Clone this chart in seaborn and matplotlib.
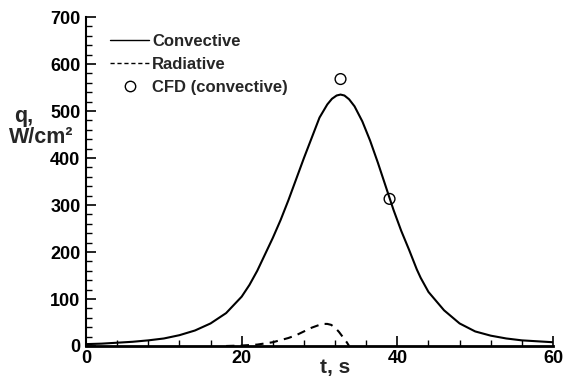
import matplotlib
matplotlib.use("Agg")
import matplotlib.pyplot as plt
from matplotlib.lines import Line2D
from matplotlib.ticker import MultipleLocator
import pandas as pd
import seaborn as sns

# Convective heating along the trajectory
conv_t = [0, 2, 4, 6, 8, 10, 12, 14, 16, 18, 20, 21, 22, 23, 24, 25, 26, 27, 28,
          29, 30, 31, 31.6, 32.2, 32.7, 33.2, 33.8, 34.5, 35.5, 36.5, 37.5, 38.5,
          39.5, 40.5, 41.5, 42.5, 43, 44, 46, 48, 50, 52, 54, 56, 58, 60]
conv_q = [4, 5, 7, 9, 12, 16, 23, 33, 48, 70, 105, 130, 160, 195, 230, 268, 310,
          355, 400, 443, 486, 514, 526, 533, 535, 533, 525, 510, 478, 437, 390,
          340, 290, 245, 205, 163, 145, 115, 76, 48, 31, 22, 16, 12, 10, 8]

# Radiative heating
rad_t = [18, 20, 22, 24, 26, 27, 28, 29, 30, 30.5, 31, 31.5, 32, 32.5, 33, 33.5, 33.8]
rad_q = [0, 1, 3, 8, 17, 23, 31, 39, 45, 47, 47, 45, 39, 30, 19, 8, 0]

# CFD convective points
cfd_t = [32.7, 39.0]
cfd_q = [568, 313]

sns.set_theme(style="ticks")
plt.rcParams["font.family"] = ["Liberation Sans", "DejaVu Sans"]
plt.rcParams["font.weight"] = "bold"

fig = plt.figure(figsize=(5.64, 3.85), dpi=100)
ax = fig.add_axes([0.1525, 0.1013, 0.828, 0.8545])

conv = pd.DataFrame({"t": conv_t, "q": conv_q})
rad = pd.DataFrame({"t": rad_t, "q": rad_q})
cfd = pd.DataFrame({"t": cfd_t, "q": cfd_q})

sns.lineplot(data=conv, x="t", y="q", ax=ax, color="black", linewidth=1.5,
             sort=False, estimator=None)
sns.lineplot(data=rad, x="t", y="q", ax=ax, color="black", linewidth=1.5,
             linestyle=(0, (4, 3)), sort=False, estimator=None)
sns.scatterplot(data=cfd, x="t", y="q", ax=ax, marker="o", s=60,
                facecolor="none", edgecolor="black", linewidth=1.0, zorder=5)

ax.set_xlim(0, 60)
ax.set_ylim(0, 700)
ax.xaxis.set_major_locator(MultipleLocator(20))
ax.xaxis.set_minor_locator(MultipleLocator(4))
ax.yaxis.set_major_locator(MultipleLocator(100))
ax.yaxis.set_minor_locator(MultipleLocator(20))
ax.tick_params(which="major", direction="in", length=7, width=1.2,
               labelsize=13, color="black", labelcolor="black")
ax.tick_params(which="minor", direction="in", length=4, width=1.0, color="black")
ax.tick_params(axis="x", pad=3)
ax.tick_params(axis="y", pad=4)
for lab in ax.get_xticklabels() + ax.get_yticklabels():
    lab.set_fontweight("bold")

sns.despine(ax=ax)
ax.spines["left"].set_linewidth(1.5)
ax.spines["bottom"].set_linewidth(2.0)
ax.spines["left"].set_color("black")
ax.spines["bottom"].set_color("black")

ax.set_xlabel("")
ax.set_ylabel("")
fig.text(0.595, 0.046, "t, s", fontsize=15, fontweight="bold", ha="center", va="center")
fig.text(0.025, 0.698, "q,", fontsize=15.5, fontweight="bold", ha="left", va="center")
fig.text(0.016, 0.643, "W/cm²", fontsize=15.5, fontweight="bold", ha="left", va="center")

handles = [
    Line2D([], [], color="black", linewidth=1.0),
    Line2D([], [], color="black", linewidth=1.0, linestyle=(0, (3, 2))),
    Line2D([], [], color="black", marker="o", markerfacecolor="none",
           linestyle="none", markersize=7.5, markeredgewidth=1.0),
]
leg = ax.legend(handles, ["Convective", "Radiative", "CFD (convective)"],
                loc="upper left", bbox_to_anchor=(0.02, 0.995), frameon=False,
                handlelength=2.3, handletextpad=0.2, labelspacing=0.5,
                prop={"size": 12, "weight": "bold"})

fig.savefig("out.png", dpi=100, facecolor="white")
